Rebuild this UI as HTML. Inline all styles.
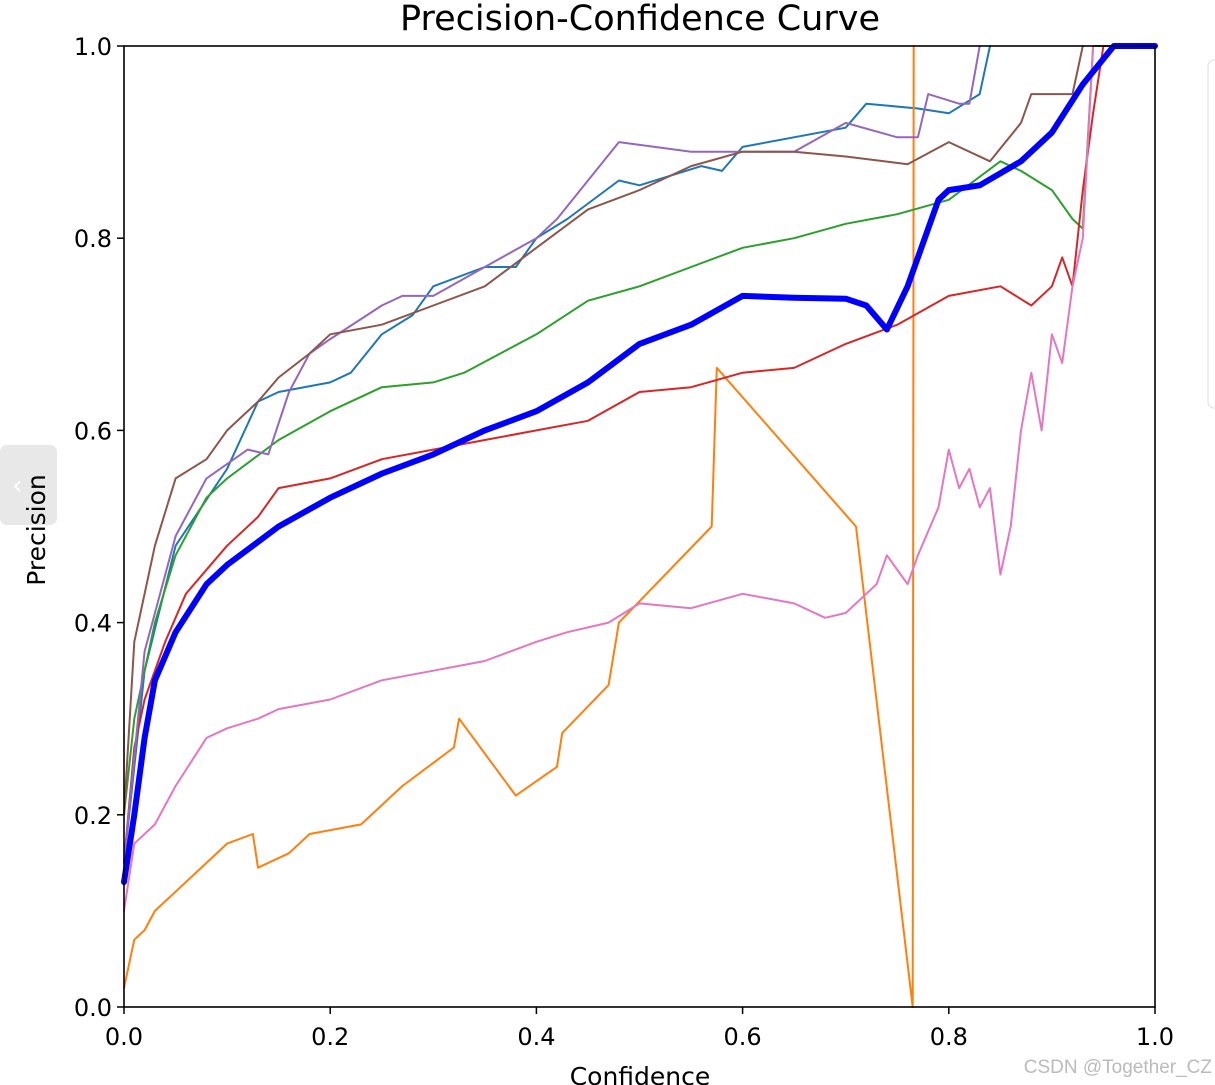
<!DOCTYPE html>
<html><head><meta charset="utf-8">
<style>
body{margin:0;background:#fff;width:1215px;height:1085px;overflow:hidden;position:relative;font-family:"DejaVu Sans","Liberation Sans",sans-serif}
svg{position:absolute;left:0;top:0}
</style></head>
<body>
<svg id="chart" width="1215" height="1085">
<text x="640" y="30" text-anchor="middle" font-size="35" fill="#000">Precision-Confidence Curve</text>
<g id="grid"></g>
<g id="series"></g>
<rect x="124" y="46" width="1031" height="961" fill="none" stroke="#000" stroke-width="1.6"/>
<g id="ticks"></g>
<text x="640" y="1085" text-anchor="middle" font-size="25">Confidence</text>
<rect x="0" y="445" width="57" height="80" rx="7" fill="#e8e8e8"/>
<text x="12" y="494" font-size="26" fill="#fff">‹</text>
<text x="45" y="530" text-anchor="middle" font-size="25" transform="rotate(-90 45 530)">Precision</text>
<rect x="1208" y="60" width="20" height="348" rx="6" fill="#fff" stroke="#ddd"/>
<text x="1212" y="1073" text-anchor="end" font-size="19" fill="#bbb" font-family="Liberation Sans, sans-serif">CSDN @Together_CZ</text>
</svg>
<script>
const xTicks=[0,0.2,0.4,0.6,0.8,1.0];
const yTicks=[0,0.2,0.4,0.6,0.8,1.0];
const tickLabels=["0.0","0.2","0.4","0.6","0.8","1.0"];
const cls0=[[0,0.15],[0.02,0.35],[0.05,0.48],[0.1,0.56],[0.13,0.63],[0.15,0.64],[0.2,0.65],[0.22,0.66],[0.25,0.7],[0.28,0.72],[0.3,0.75],[0.35,0.77],[0.38,0.77],[0.4,0.8],[0.43,0.82],[0.48,0.86],[0.5,0.855],[0.56,0.875],[0.58,0.87],[0.6,0.895],[0.7,0.915],[0.72,0.94],[0.77,0.935],[0.8,0.93],[0.83,0.95],[0.84,1.0]];
const cls1=[[0,0.02],[0.01,0.07],[0.02,0.08],[0.03,0.1],[0.05,0.12],[0.08,0.15],[0.1,0.17],[0.125,0.18],[0.13,0.145],[0.16,0.16],[0.18,0.18],[0.23,0.19],[0.27,0.23],[0.32,0.27],[0.325,0.3],[0.38,0.22],[0.42,0.25],[0.425,0.285],[0.47,0.335],[0.48,0.4],[0.57,0.5],[0.575,0.665],[0.71,0.5],[0.765,0],[0.766,1.0]];
const cls2=[[0,0.2],[0.01,0.3],[0.03,0.4],[0.05,0.47],[0.08,0.53],[0.1,0.55],[0.15,0.59],[0.2,0.62],[0.25,0.645],[0.3,0.65],[0.33,0.66],[0.4,0.7],[0.45,0.735],[0.5,0.75],[0.55,0.77],[0.6,0.79],[0.65,0.8],[0.7,0.815],[0.75,0.825],[0.8,0.84],[0.85,0.88],[0.87,0.87],[0.9,0.85],[0.92,0.82],[0.93,0.81],[0.94,1.0],[1,1]];
const cls3=[[0,0.15],[0.01,0.27],[0.02,0.32],[0.04,0.38],[0.06,0.43],[0.1,0.48],[0.13,0.51],[0.15,0.54],[0.2,0.55],[0.25,0.57],[0.3,0.58],[0.35,0.59],[0.4,0.6],[0.45,0.61],[0.5,0.64],[0.55,0.645],[0.6,0.66],[0.65,0.665],[0.7,0.69],[0.75,0.71],[0.8,0.74],[0.85,0.75],[0.88,0.73],[0.9,0.75],[0.91,0.78],[0.92,0.75],[0.93,0.85],[0.94,0.93],[0.95,1.0],[1,1]];
const cls4=[[0,0.15],[0.02,0.37],[0.05,0.49],[0.08,0.55],[0.12,0.58],[0.14,0.575],[0.16,0.64],[0.18,0.68],[0.2,0.695],[0.25,0.73],[0.27,0.74],[0.3,0.74],[0.35,0.77],[0.4,0.8],[0.42,0.82],[0.45,0.86],[0.48,0.9],[0.55,0.89],[0.65,0.89],[0.7,0.92],[0.75,0.905],[0.77,0.905],[0.78,0.95],[0.81,0.94],[0.82,0.94],[0.83,1.0]];
const cls5=[[0,0.2],[0.01,0.38],[0.03,0.48],[0.05,0.55],[0.08,0.57],[0.1,0.6],[0.13,0.63],[0.15,0.655],[0.18,0.68],[0.2,0.7],[0.25,0.71],[0.3,0.73],[0.35,0.75],[0.4,0.79],[0.45,0.83],[0.5,0.85],[0.55,0.875],[0.6,0.89],[0.65,0.89],[0.7,0.885],[0.76,0.877],[0.8,0.9],[0.84,0.88],[0.87,0.92],[0.88,0.95],[0.92,0.95],[0.93,1.0]];
const cls6=[[0,0.1],[0.01,0.17],[0.03,0.19],[0.05,0.23],[0.08,0.28],[0.1,0.29],[0.13,0.3],[0.15,0.31],[0.2,0.32],[0.25,0.34],[0.3,0.35],[0.35,0.36],[0.4,0.38],[0.43,0.39],[0.47,0.4],[0.5,0.42],[0.55,0.415],[0.6,0.43],[0.65,0.42],[0.68,0.405],[0.7,0.41],[0.73,0.44],[0.74,0.47],[0.76,0.44],[0.77,0.47],[0.79,0.52],[0.8,0.58],[0.81,0.54],[0.82,0.56],[0.83,0.52],[0.84,0.54],[0.85,0.45],[0.86,0.5],[0.87,0.6],[0.88,0.66],[0.89,0.6],[0.9,0.7],[0.91,0.67],[0.92,0.75],[0.93,0.8],[0.94,1.0]];
const allClasses=[[0,0.13],[0.01,0.2],[0.02,0.28],[0.03,0.34],[0.05,0.39],[0.08,0.44],[0.1,0.46],[0.15,0.5],[0.2,0.53],[0.25,0.555],[0.3,0.575],[0.35,0.6],[0.4,0.62],[0.45,0.65],[0.5,0.69],[0.55,0.71],[0.6,0.74],[0.65,0.738],[0.7,0.737],[0.72,0.73],[0.74,0.705],[0.76,0.75],[0.79,0.84],[0.8,0.85],[0.83,0.855],[0.87,0.88],[0.9,0.91],[0.93,0.96],[0.96,1.0],[1,1.0]];
const seriesList=[[cls0,"#1f77b4","class-0-curve",2],[cls1,"#ff7f0e","class-1-curve",2],[cls2,"#2ca02c","class-2-curve",2],[cls3,"#d62728","class-3-curve",2],[cls4,"#9467bd","class-4-curve",2],[cls5,"#8c564b","class-5-curve",2],[cls6,"#e377c2","class-6-curve",2],[allClasses,"#0000ff","all-classes-curve",6]];
const X0=124,X1=1155,Y0=1007,Y1=46;
const sx=v=>X0+v*(X1-X0), sy=v=>Y0-v*(Y0-Y1);
const NS="http://www.w3.org/2000/svg";
const sg=document.getElementById('series');
seriesList.forEach(s=>{
  const p=document.createElementNS(NS,'polyline');
  p.setAttribute('points',s[0].map(d=>sx(d[0]).toFixed(1)+','+sy(Math.min(1,d[1])).toFixed(1)).join(' '));
  p.setAttribute('fill','none');p.setAttribute('stroke',s[1]);p.setAttribute('stroke-width',s[3]);
  p.setAttribute('stroke-linejoin','round');p.setAttribute('stroke-linecap','round');
  
  
  sg.appendChild(p);
});
const tg=document.getElementById('ticks');
xTicks.forEach((v,i)=>{
  const l=document.createElementNS(NS,'line');
  l.setAttribute('x1',sx(v));l.setAttribute('x2',sx(v));l.setAttribute('y1',Y0);l.setAttribute('y2',Y0+7);l.setAttribute('stroke','#000');l.setAttribute('stroke-width','1.5');
  
  
  tg.appendChild(l);
  const t=document.createElementNS(NS,'text');
  t.setAttribute('x',sx(v));t.setAttribute('y',Y0+38);t.setAttribute('text-anchor','middle');t.setAttribute('font-size','24');
  t.textContent=tickLabels[i];
  
  
  tg.appendChild(t);
});
yTicks.forEach((v,i)=>{
  const l=document.createElementNS(NS,'line');
  l.setAttribute('x1',X0-7);l.setAttribute('x2',X0);l.setAttribute('y1',sy(v));l.setAttribute('y2',sy(v));l.setAttribute('stroke','#000');l.setAttribute('stroke-width','1.5');
  
  
  tg.appendChild(l);
  const t=document.createElementNS(NS,'text');
  t.setAttribute('x',X0-12);t.setAttribute('y',sy(v)+9);t.setAttribute('text-anchor','end');t.setAttribute('font-size','24');
  t.textContent=tickLabels[i];
  
  
  tg.appendChild(t);
});
</script>
</body></html>
